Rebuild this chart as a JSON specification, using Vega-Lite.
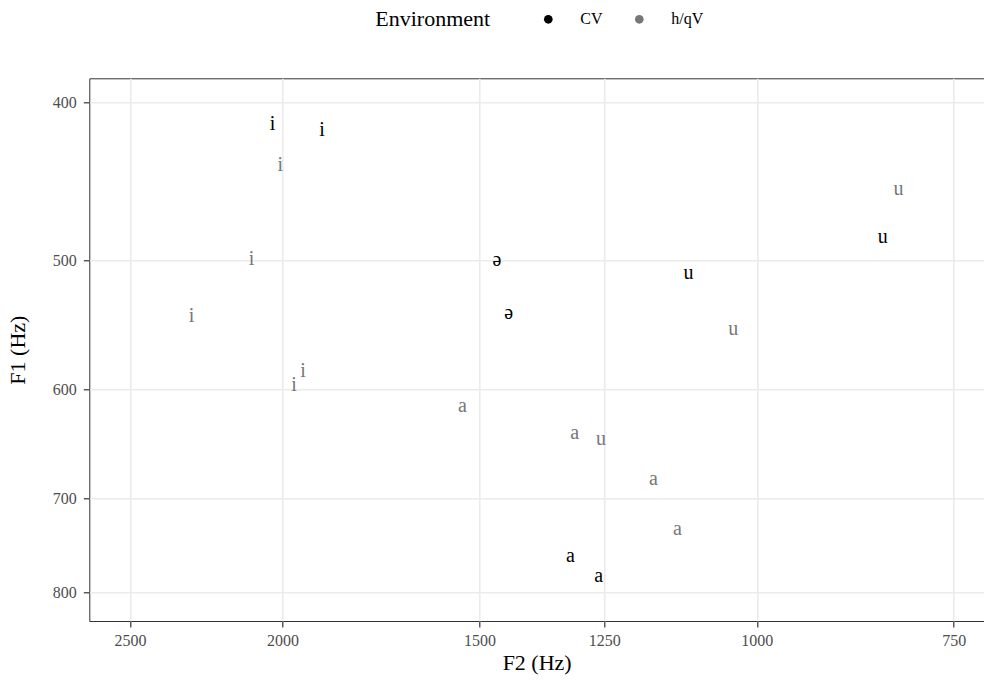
{
  "$schema": "https://vega.github.io/schema/vega-lite/v6.json",
  "width": 894.7,
  "height": 542.7,
  "autosize": "none",
  "padding": {"left": 89.3, "top": 78.3, "right": 0, "bottom": 60},
  "background": "white",
  "config": {
    "font": "Liberation Serif",
    "view": {"stroke": "#333333", "strokeWidth": 1},
    "axis": {
      "domain": false,
      "grid": true,
      "gridColor": "#ebebeb",
      "gridWidth": 1.6,
      "tickColor": "#333333",
      "tickSize": 6,
      "tickWidth": 1.2,
      "labelColor": "#4d4d4d",
      "labelFont": "Liberation Serif",
      "labelFontSize": 16,
      "titleFont": "Liberation Serif",
      "titleFontSize": 22,
      "titleFontWeight": "normal",
      "titleColor": "#000000"
    },
    "legend": {
      "titleFont": "Liberation Serif",
      "labelFont": "Liberation Serif",
      "titleFontWeight": "normal"
    }
  },
  "data": {
    "values": [
      {"vowel": "i", "F2": 2030, "F1": 412, "env": "CV"},
      {"vowel": "i", "F2": 1888, "F1": 416, "env": "CV"},
      {"vowel": "ə", "F2": 1462, "F1": 500, "env": "CV"},
      {"vowel": "ə", "F2": 1437, "F1": 539, "env": "CV"},
      {"vowel": "u", "F2": 1105, "F1": 509, "env": "CV"},
      {"vowel": "u", "F2": 832, "F1": 484, "env": "CV"},
      {"vowel": "a", "F2": 1313, "F1": 760, "env": "CV"},
      {"vowel": "a", "F2": 1260, "F1": 782, "env": "CV"},
      {"vowel": "i", "F2": 2007, "F1": 437, "env": "h/qV"},
      {"vowel": "i", "F2": 2093, "F1": 499, "env": "h/qV"},
      {"vowel": "i", "F2": 2285, "F1": 541, "env": "h/qV"},
      {"vowel": "i", "F2": 1941, "F1": 585, "env": "h/qV"},
      {"vowel": "i", "F2": 1967, "F1": 596, "env": "h/qV"},
      {"vowel": "a", "F2": 1538, "F1": 614, "env": "h/qV"},
      {"vowel": "a", "F2": 1305, "F1": 638, "env": "h/qV"},
      {"vowel": "u", "F2": 1256, "F1": 644, "env": "h/qV"},
      {"vowel": "a", "F2": 1163, "F1": 681, "env": "h/qV"},
      {"vowel": "a", "F2": 1123, "F1": 731, "env": "h/qV"},
      {"vowel": "u", "F2": 1035, "F1": 551, "env": "h/qV"},
      {"vowel": "u", "F2": 813, "F1": 452, "env": "h/qV"}
    ]
  },
  "mark": {"type": "text", "fontSize": 20, "font": "Liberation Serif", "baseline": "middle", "align": "center"},
  "encoding": {
    "x": {
      "field": "F2",
      "type": "quantitative",
      "scale": {"type": "log", "domain": [717.5, 2653], "reverse": true, "nice": false, "zero": false},
      "axis": {"title": "F2 (Hz)", "values": [2500, 2000, 1500, 1250, 1000, 750], "format": "d", "labelPadding": 5, "titlePadding": 4, "labelFlush": false, "labelOverlap": false}
    },
    "y": {
      "field": "F1",
      "type": "quantitative",
      "scale": {"type": "log", "domain": [386.4, 832.9], "reverse": true, "nice": false, "zero": false},
      "axis": {"title": "F1 (Hz)", "values": [400, 500, 600, 700, 800], "format": "d", "labelPadding": 7, "titlePadding": 23, "labelFlush": false, "labelOverlap": false}
    },
    "text": {"field": "vowel", "type": "nominal"},
    "color": {
      "field": "env",
      "type": "nominal",
      "scale": {"domain": ["CV", "h/qV"], "range": ["#000000", "#777777"]},
      "legend": {
        "title": "Environment",
        "orient": "none",
        "legendX": 286,
        "legendY": -67,
        "direction": "horizontal",
        "titleOrient": "left",
        "titleFontSize": 22,
        "titleColor": "#000000",
        "labelFontSize": 16,
        "labelColor": "#000000",
        "symbolType": "circle",
        "symbolSize": 75,
        "symbolStrokeWidth": 0,
        "labelOffset": 24,
        "columnPadding": 28,
        "titlePadding": 50
      }
    }
  }
}
